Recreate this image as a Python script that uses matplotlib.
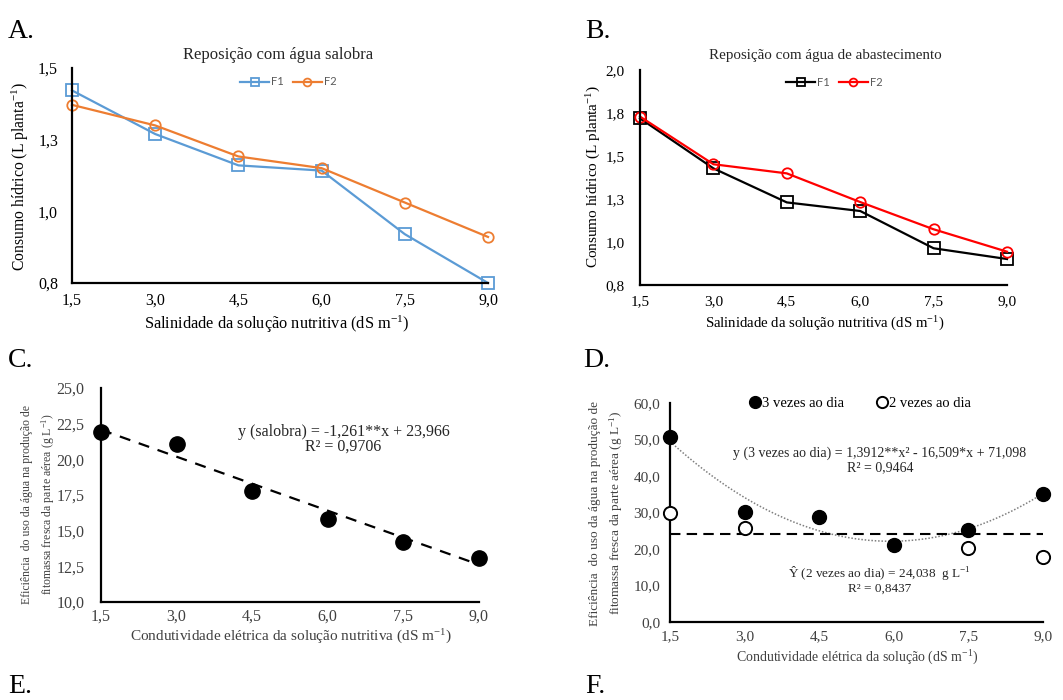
import numpy as np
import matplotlib
matplotlib.use("Agg")
import matplotlib.pyplot as plt
from matplotlib.ticker import FuncFormatter

plt.rcParams['font.family'] = ['Liberation Serif', 'DejaVu Serif']
plt.rcParams['mathtext.fontset'] = 'custom'
plt.rcParams['mathtext.rm'] = 'Liberation Serif'
plt.rcParams['mathtext.it'] = 'Liberation Serif:italic'

# salinity levels (dS m-1)
ec = [1.5, 3.0, 4.5, 6.0, 7.5, 9.0]
ec_labels = ['1,5', '3,0', '4,5', '6,0', '7,5', '9,0']

# A - brackish water replacement
a_f1 = [1.427, 1.285, 1.183, 1.166, 0.959, 0.800]
a_f2 = [1.380, 1.313, 1.212, 1.174, 1.062, 0.950]

# B - supply water replacement
b_f1 = [1.730, 1.451, 1.261, 1.213, 1.005, 0.945]
b_f2 = [1.740, 1.474, 1.423, 1.263, 1.111, 0.986]

# C - water use efficiency (brackish)
c_eff = [21.9, 21.1, 17.8, 15.8, 14.2, 13.1]
c_coef = [-1.261, 23.966]

# D - water use efficiency by frequency
d_ec2 = [1.5, 3.0, 7.5, 9.0]
d_3x = [50.6, 30.2, 28.9, 21.1, 25.2, 35.1]
d_2x = [30.0, 25.8, 20.3, 17.9]
d_coef = [1.3912, -16.509, 71.098]
d_mean2 = 24.038

W, H = 1063, 700
fig = plt.figure(figsize=(W / 100, H / 100), dpi=100)


def add_ax(x0, ytop, x1, ybot):
    return fig.add_axes([x0 / W, 1 - ybot / H, (x1 - x0) / W, (ybot - ytop) / H])


def ftext(x, y, s, **kw):
    return fig.text(x / W, 1 - y / H, s, **kw)


def comma(v, pos):
    return ('%.1f' % v).replace('.', ',')


def style(ax, color='black', size=11, xpad=10, ypad=10):
    for s in ['top', 'right']:
        ax.spines[s].set_visible(False)
    for s in ['left', 'bottom']:
        ax.spines[s].set_linewidth(1.6)
        ax.spines[s].set_color('black')
    ax.tick_params(length=0, labelsize=size, labelcolor=color)
    ax.tick_params(axis='x', pad=xpad)
    ax.tick_params(axis='y', pad=ypad)
    ax.set_xlim(1.5, 9.0)
    ax.set_xticks(ec)
    ax.set_xticklabels(ec_labels)
    ax.yaxis.set_major_formatter(FuncFormatter(comma))
    ax.patch.set_alpha(0)


# panel letters
for x, y, s in [(8, 38, 'A.'), (585, 38, 'B.'), (8, 367, 'C.'), (583, 367, 'D.'),
                (8, 693, 'E.'), (585, 693, 'F.')]:
    ftext(x, y, s, fontsize=20, va='baseline')

# ---------- A ----------
ax = add_ax(72, 68, 488, 283)
style(ax, size=11.5, xpad=7)
ax.set_ylim(0.8, 1.5)
ax.set_yticks(np.linspace(0.8, 1.5, 4))
ax.plot(ec, a_f1, color='#5B9BD5', lw=1.6, marker='s', ms=8.5, mfc='none',
        mec='#5B9BD5', mew=1.3, label='F1', clip_on=False)
ax.plot(ec, a_f2, color='#ED7D31', lw=1.6, marker='o', ms=7.5, mfc='none',
        mec='#ED7D31', mew=1.3, label='F2', clip_on=False)
leg = ax.legend(loc='center', bbox_to_anchor=(0.52, 0.935), ncol=2, frameon=False,
                prop={'family': 'Lato', 'size': 8}, handlelength=2.6,
                columnspacing=0.8, handletextpad=0.2, markerscale=0.75)
for t in leg.get_texts():
    t.set_color('#595959')
ftext(278, 55, 'Reposição com água salobra', fontsize=12, ha='center', va='center',
      color='#262626')
ftext(20, 176, 'Consumo hídrico (L planta$^{-1}$)', fontsize=11.3, rotation=90,
      ha='center', va='center')
ftext(277, 324, 'Salinidade da solução nutritiva (dS m$^{-1}$)', fontsize=11.8,
      ha='center', va='center')

# ---------- B ----------
ax = add_ax(640, 70, 1007, 285)
style(ax, size=11, xpad=7, ypad=11)
ax.set_ylim(0.8, 2.0)
ax.set_yticks(np.linspace(0.8, 2.0, 6))
ax.plot(ec, b_f1, color='black', lw=1.6, marker='s', ms=8.5, mfc='none',
        mec='black', mew=1.3, label='F1', clip_on=False)
ax.plot(ec, b_f2, color='#FF0000', lw=1.6, marker='o', ms=7.5, mfc='none',
        mec='#FF0000', mew=1.3, label='F2', clip_on=False)
leg = ax.legend(loc='center', bbox_to_anchor=(0.53, 0.944), ncol=2, frameon=False,
                prop={'family': 'Lato', 'size': 8}, handlelength=2.6,
                columnspacing=0.8, handletextpad=0.2, markerscale=0.75)
for t in leg.get_texts():
    t.set_color('#595959')
ftext(825, 55, 'Reposição com água de abastecimento', fontsize=10.8, ha='center',
      va='center', color='#262626')
ftext(594, 176, 'Consumo hídrico (L planta$^{-1}$)', fontsize=11, rotation=90,
      ha='center', va='center')
ftext(825, 324, 'Salinidade da solução nutritiva (dS m$^{-1}$)', fontsize=10.6,
      ha='center', va='center')

# ---------- C ----------
ax = add_ax(101, 388, 479, 602)
style(ax, color='#404040', size=11.5, xpad=5, ypad=12)
ax.set_ylim(10, 25)
ax.set_yticks(np.arange(10, 25.1, 2.5))
xs = np.array([ec[0], ec[-1]])
ax.plot(xs, c_coef[0] * xs + c_coef[1], color='black', lw=1.6, ls=(0, (5, 4)))
ax.plot(ec, c_eff, 'o', color='black', ms=11, clip_on=False, zorder=3)
ftext(238, 432, 'y (salobra) = -1,261**x + 23,966', fontsize=11.5, va='center',
      color='#262626')
ftext(343, 447, 'R² = 0,9706', fontsize=11.5, ha='center', va='center', color='#262626')
ftext(39, 504, 'Eficiência  do uso da água na produção de\nfitomassa fresca da parte aérea (g L$^{-1}$)',
      fontsize=8.5, rotation=90, ha='center', va='center', color='#404040', linespacing=1.5)
ftext(291, 637, 'Condutividade elétrica da solução nutritiva (dS m$^{-1}$)', fontsize=11,
      ha='center', va='center', color='#404040')

# ---------- D ----------
ax = add_ax(670, 403, 1043, 622)
style(ax, color='#404040', size=11, xpad=6, ypad=7)
ax.set_ylim(0, 60)
ax.set_yticks(np.arange(0, 60.1, 10))
xx = np.linspace(ec[0], ec[-1], 200)
ax.plot(xx, np.polyval(d_coef, xx), color='#7f7f7f', lw=1.1, ls=(0, (1, 1.2)))
ax.plot([ec[0], ec[-1]], [d_mean2, d_mean2], color='black', lw=1.5, ls=(0, (5, 3)))
ax.plot(ec, d_3x, 'o', color='black', ms=10, clip_on=False, zorder=3,
        label='3 vezes ao dia')
ax.plot(d_ec2, d_2x, 'o', mfc='white', mec='black', mew=1.4, ms=9.5, clip_on=False,
        zorder=3, label='2 vezes ao dia')
ax.legend(loc='center', bbox_to_anchor=(0.51, 1.0), ncol=2, frameon=False, fontsize=10.5,
          handlelength=0.8, handletextpad=0.1, columnspacing=2.2, markerscale=0.85)
ftext(880, 453, 'y (3 vezes ao dia) = 1,3912**x² - 16,509*x + 71,098', fontsize=10,
      ha='center', va='center', color='#262626')
ftext(880, 468, 'R² = 0,9464', fontsize=10, ha='center', va='center', color='#262626')
ftext(879, 573, 'Ŷ (2 vezes ao dia) = 24,038  g L$^{-1}$', fontsize=9.5, ha='center',
      va='center', color='#262626')
ftext(880, 589, 'R² = 0,8437', fontsize=9.5, ha='center', va='center', color='#262626')
ftext(607, 513, 'Eficiência  do uso da água na produção de\nfitomassa fresca da parte aérea (g L$^{-1}$)',
      fontsize=9.5, rotation=90, ha='center', va='center', color='#404040', linespacing=1.5)
ftext(857, 658, 'Condutividade elétrica da solução (dS m$^{-1}$)', fontsize=10,
      ha='center', va='center', color='#404040')

fig.savefig('out.png', dpi=100)
